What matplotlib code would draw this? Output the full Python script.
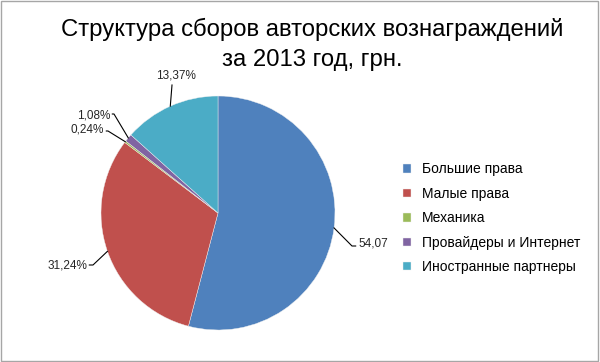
import numpy as np
import matplotlib.pyplot as plt
from matplotlib.patches import Rectangle

plt.rcParams['font.family'] = ['Liberation Sans', 'DejaVu Sans']

# Доли сборов, %
categorias = ['Большие права', 'Малые права', 'Механика',
              'Провайдеры и Интернет', 'Иностранные партнеры']
valores = [54.07, 31.24, 0.24, 1.08, 13.37]
etiquetas = ['54,07', '31,24%', '0,24%', '1,08%', '13,37%']
colores = ['#4F81BD', '#C0504D', '#9BBB59', '#8064A2', '#4BACC6']

W, H = 600, 362
fig = plt.figure(figsize=(6, 3.62), dpi=100)

# pie centre (218, 213) px, radius 117 px
cx, cy, r = 218, 213, 117
ax = fig.add_axes([(cx - r) / W, (H - cy - r) / H, 2 * r / W, 2 * r / H])
wedges, _ = ax.pie(valores, colors=colores, startangle=90, counterclock=False,
                   radius=1, wedgeprops=dict(linewidth=0.3, edgecolor='#f0f0f0'))
ax.set_xlim(-1, 1)
ax.set_ylim(-1, 1)
ax.set_aspect('equal')


def px(x, y):
    return (x - cx) / r, (cy - y) / r


# text anchor, elbow point (pixel coords), alignment
pos_texto = [((358, 243), (352, 246), 'left'),
             ((87, 265), (93, 265), 'right'),
             ((104, 129), (108, 131), 'right'),
             ((110, 115), (114, 114), 'right'),
             ((176, 76), (172, 85), 'center')]

for w, lab, (tp, ep, ha) in zip(wedges, etiquetas, pos_texto):
    ang = np.deg2rad((w.theta1 + w.theta2) / 2)
    x0, y0 = np.cos(ang), np.sin(ang)
    ex, ey = px(*ep)
    tx, ty = px(*tp)
    if ha == 'center':
        ax.plot([x0, ex], [y0, ey], color='black', lw=0.8, clip_on=False)
    else:
        ax.plot([x0, ex, tx + (0.02 if ha == 'right' else -0.02)], [y0, ey, ey],
                color='black', lw=0.8, clip_on=False)
    ax.text(tx, ty, lab, ha=ha, va='center', fontsize=8.5, color='#262626',
            clip_on=False)

fig.text(0.52, 0.918, 'Структура сборов авторских вознаграждений',
         ha='center', va='center', fontsize=17.2)
fig.text(0.52, 0.835, 'за 2013 год, грн.', ha='center', va='center', fontsize=17.2)

ax.legend(wedges, categorias, loc='upper left', bbox_to_anchor=(391 / W, 1 - 150 / H),
          bbox_transform=fig.transFigure, frameon=False, fontsize=10,
          handlelength=0.55, handleheight=0.55, handletextpad=0.75, labelspacing=0.75)

fig.patches.append(Rectangle((0.002, 0.003), 0.995, 0.994, transform=fig.transFigure,
                             fill=False, edgecolor='#a6a6a6', lw=1))

fig.savefig('out.png', dpi=100)
